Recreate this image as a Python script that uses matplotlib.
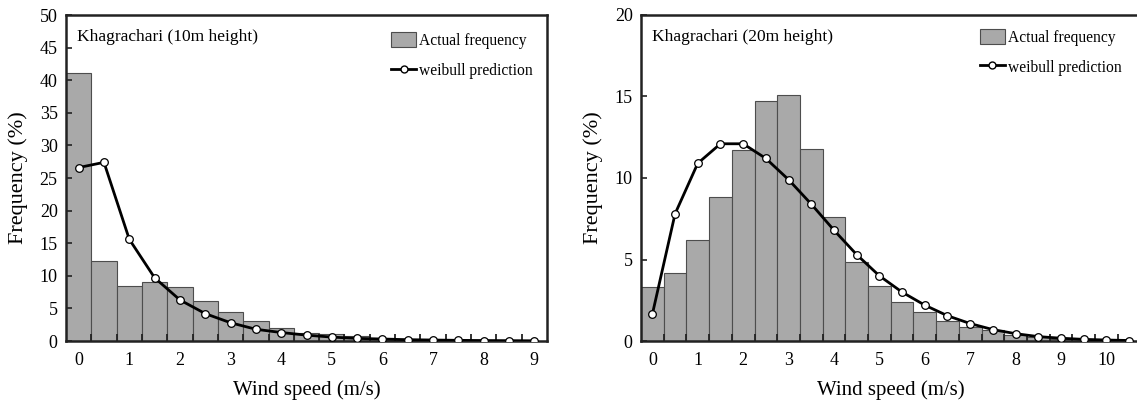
import matplotlib
matplotlib.use("Agg")
import matplotlib.pyplot as plt
from matplotlib.patches import Patch
from matplotlib.lines import Line2D
import numpy as np

plt.rcParams['font.family'] = ['Liberation Serif', 'DejaVu Serif']

# wind speed bins (m/s), bar centres every 0.5
speed_10m = [0.0, 0.5, 1.0, 1.5, 2.0, 2.5, 3.0, 3.5, 4.0, 4.5, 5.0, 5.5, 6.0,
             6.5, 7.0, 7.5, 8.0, 8.5, 9.0]
actual_10m = [41.1, 12.3, 8.5, 9.0, 8.3, 6.1, 4.4, 3.1, 2.0, 1.3, 1.0, 0.7,
              0.5, 0.3, 0.2, 0.15, 0.1, 0.05, 0.05]
weibull_10m = [26.6, 27.4, 15.6, 9.7, 6.3, 4.2, 2.8, 1.8, 1.3, 0.9, 0.6, 0.4,
               0.3, 0.2, 0.15, 0.1, 0.07, 0.05, 0.03]

speed_20m = [0.0, 0.5, 1.0, 1.5, 2.0, 2.5, 3.0, 3.5, 4.0, 4.5, 5.0, 5.5, 6.0,
             6.5, 7.0, 7.5, 8.0, 8.5, 9.0, 9.5, 10.0, 10.5]
actual_20m = [3.3, 4.2, 6.2, 8.85, 11.7, 14.7, 15.1, 11.8, 7.6, 4.86, 3.4,
              2.4, 1.75, 1.2, 0.86, 0.65, 0.35, 0.25, 0.15, 0.1, 0.05, 0.03]
weibull_20m = [1.64, 7.8, 10.9, 12.1, 12.1, 11.2, 9.9, 8.4, 6.8, 5.3, 4.0,
               3.0, 2.2, 1.55, 1.07, 0.7, 0.45, 0.27, 0.17, 0.1, 0.06, 0.03]

fig = plt.figure(figsize=(11.37, 4.11), dpi=100)
ax1 = fig.add_axes([66 / 1137, 70 / 411, 481 / 1137, 326 / 411])
ax2 = fig.add_axes([641 / 1137, 70 / 411, 499.4 / 1137, 326 / 411])

panels = [
    (ax1, speed_10m, actual_10m, weibull_10m, 50, 5, 9, 'Khagrachari (10m height)'),
    (ax2, speed_20m, actual_20m, weibull_20m, 20, 5, 10, 'Khagrachari (20m height)'),
]

for ax, x, bars, pred, ymax, ystep, xmax, title in panels:
    ax.bar(x, bars, width=0.5, color='#a9a9a9', edgecolor='#4d4d4d',
           linewidth=0.8, zorder=1)
    ax.plot(x, pred, color='black', lw=2, marker='o', ms=5.5,
            mfc='white', mec='black', mew=0.9, zorder=3)
    ax.set_xlim(-0.25, len(x) * 0.5 - 0.25)
    ax.set_ylim(0, ymax)
    ax.set_xticks(range(0, xmax + 1))
    ax.set_xticks(np.arange(0.25, len(x) * 0.5 - 0.25, 0.5), minor=True)
    ax.set_yticks(range(0, ymax + 1, ystep))
    ax.tick_params(axis='x', which='major', length=0, labelsize=13, pad=8)
    ax.tick_params(axis='x', which='minor', direction='in', length=5,
                   width=1.3, color='#222222')
    ax.tick_params(axis='y', direction='in', length=4, width=1.2,
                   labelsize=13, pad=6, color='#222222')
    for s in ax.spines.values():
        s.set_linewidth(1.8)
        s.set_color('#222222')
    ax.set_xlabel('Wind speed (m/s)', fontsize=15, labelpad=8)
    ax.set_ylabel('Frequency (%)', fontsize=16, labelpad=8)
    ax.text(0.022, 0.958, title, transform=ax.transAxes, fontsize=12.5,
            va='top', ha='left')
    handles = [Patch(facecolor='#a9a9a9', edgecolor='#4d4d4d', lw=0.8),
               Line2D([], [], color='black', lw=2, marker='o', ms=5,
                      mfc='white', mec='black')]
    ax.legend(handles, ['Actual frequency', 'weibull prediction'],
              loc='upper right', frameon=False, fontsize=11.2,
              handlelength=1.6, handleheight=1.1, handletextpad=0.2,
              labelspacing=0.85, borderaxespad=0.5)

ax1.legend_.set_bbox_to_anchor((1.0, 0.99))
ax2.legend_.set_bbox_to_anchor((0.99, 1.0))

fig.savefig('out.png', dpi=100)
